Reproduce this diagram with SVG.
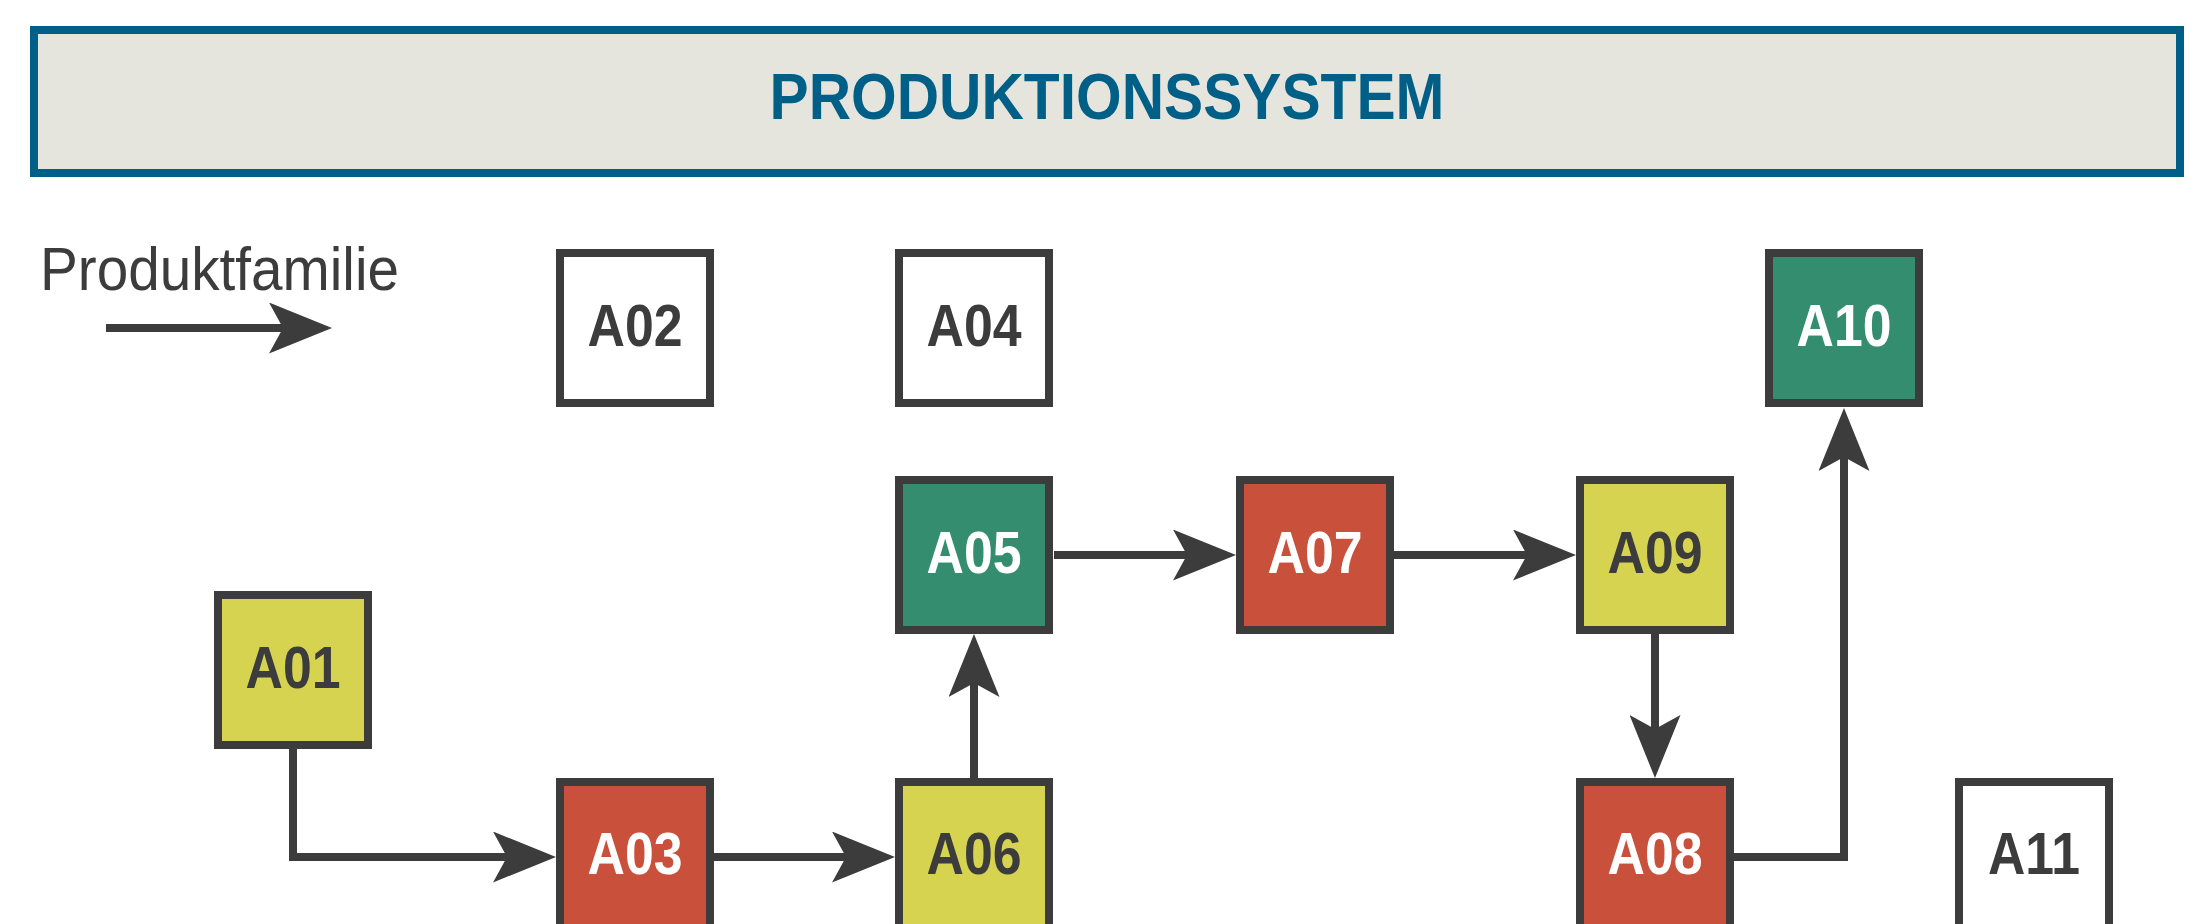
<svg xmlns="http://www.w3.org/2000/svg" width="2201" height="924" viewBox="0 0 2201 924">
<style>
.box{stroke:#3c3c3c;stroke-width:8}
.w{fill:#ffffff}.y{fill:#d6d350}.g{fill:#338d6e}.r{fill:#c9513c}
.lbl{font-family:"Liberation Sans",Arial,sans-serif;font-weight:bold;font-size:60px;text-anchor:middle}
.dk{fill:#3c3c3c}.lt{fill:#ffffff}
.con{fill:none;stroke:#3c3c3c;stroke-width:8;marker-end:url(#ah)}
</style>
<defs>
<marker id="ah" viewBox="0 0 63 51" refX="20" refY="25.5" markerWidth="63" markerHeight="51" markerUnits="userSpaceOnUse" orient="auto">
<path d="M0,0 L63,25.5 L0,51 L14,25.5 Z" fill="#3c3c3c"/>
</marker>
</defs>
<rect width="2201" height="924" fill="#ffffff"/>
<g id="title">
<rect x="34" y="30" width="2146" height="143" fill="#e5e5de" stroke="#005f87" stroke-width="8"/>
<text x="1107" y="119" font-family="Liberation Sans,Arial,sans-serif" font-weight="bold" font-size="64" fill="#005f87" text-anchor="middle" textLength="675" lengthAdjust="spacingAndGlyphs">PRODUKTIONSSYSTEM</text>
</g>
<g id="legend">
<text x="40" y="290" font-family="Liberation Sans,Arial,sans-serif" font-size="62" fill="#3c3c3c" textLength="359" lengthAdjust="spacingAndGlyphs">Produktfamilie</text>
<line x1="106" y1="328" x2="289" y2="328" class="con"/>
</g>
<g id="connectors">
<polyline class="con" points="293,749 293,857 513,857"/>
<line class="con" x1="714" y1="857" x2="852" y2="857"/>
<line class="con" x1="974" y1="778" x2="974" y2="677"/>
<line class="con" x1="1054" y1="555" x2="1193" y2="555"/>
<line class="con" x1="1394" y1="555" x2="1533" y2="555"/>
<line class="con" x1="1655" y1="634" x2="1655" y2="735"/>
<polyline class="con" points="1734,857 1844,857 1844,451"/>
</g>
<g id="A01"><rect class="box y" x="218" y="595" width="150" height="150"/><text class="lbl dk" x="293" y="688" textLength="95" lengthAdjust="spacingAndGlyphs">A01</text></g>
<g id="A02"><rect class="box w" x="560" y="253" width="150" height="150"/><text class="lbl dk" x="635" y="346" textLength="95" lengthAdjust="spacingAndGlyphs">A02</text></g>
<g id="A03"><rect class="box r" x="560" y="782" width="150" height="150"/><text class="lbl lt" x="635" y="874" textLength="95" lengthAdjust="spacingAndGlyphs">A03</text></g>
<g id="A04"><rect class="box w" x="899" y="253" width="150" height="150"/><text class="lbl dk" x="974" y="346" textLength="95" lengthAdjust="spacingAndGlyphs">A04</text></g>
<g id="A05"><rect class="box g" x="899" y="480" width="150" height="150"/><text class="lbl lt" x="974" y="573" textLength="95" lengthAdjust="spacingAndGlyphs">A05</text></g>
<g id="A06"><rect class="box y" x="899" y="782" width="150" height="150"/><text class="lbl dk" x="974" y="874" textLength="95" lengthAdjust="spacingAndGlyphs">A06</text></g>
<g id="A07"><rect class="box r" x="1240" y="480" width="150" height="150"/><text class="lbl lt" x="1315" y="573" textLength="95" lengthAdjust="spacingAndGlyphs">A07</text></g>
<g id="A08"><rect class="box r" x="1580" y="782" width="150" height="150"/><text class="lbl lt" x="1655" y="874" textLength="95" lengthAdjust="spacingAndGlyphs">A08</text></g>
<g id="A09"><rect class="box y" x="1580" y="480" width="150" height="150"/><text class="lbl dk" x="1655" y="573" textLength="95" lengthAdjust="spacingAndGlyphs">A09</text></g>
<g id="A10"><rect class="box g" x="1769" y="253" width="150" height="150"/><text class="lbl lt" x="1844" y="346" textLength="95" lengthAdjust="spacingAndGlyphs">A10</text></g>
<g id="A11"><rect class="box w" x="1959" y="782" width="150" height="150"/><text class="lbl dk" x="2034" y="874" textLength="92" lengthAdjust="spacingAndGlyphs">A11</text></g>
</svg>
